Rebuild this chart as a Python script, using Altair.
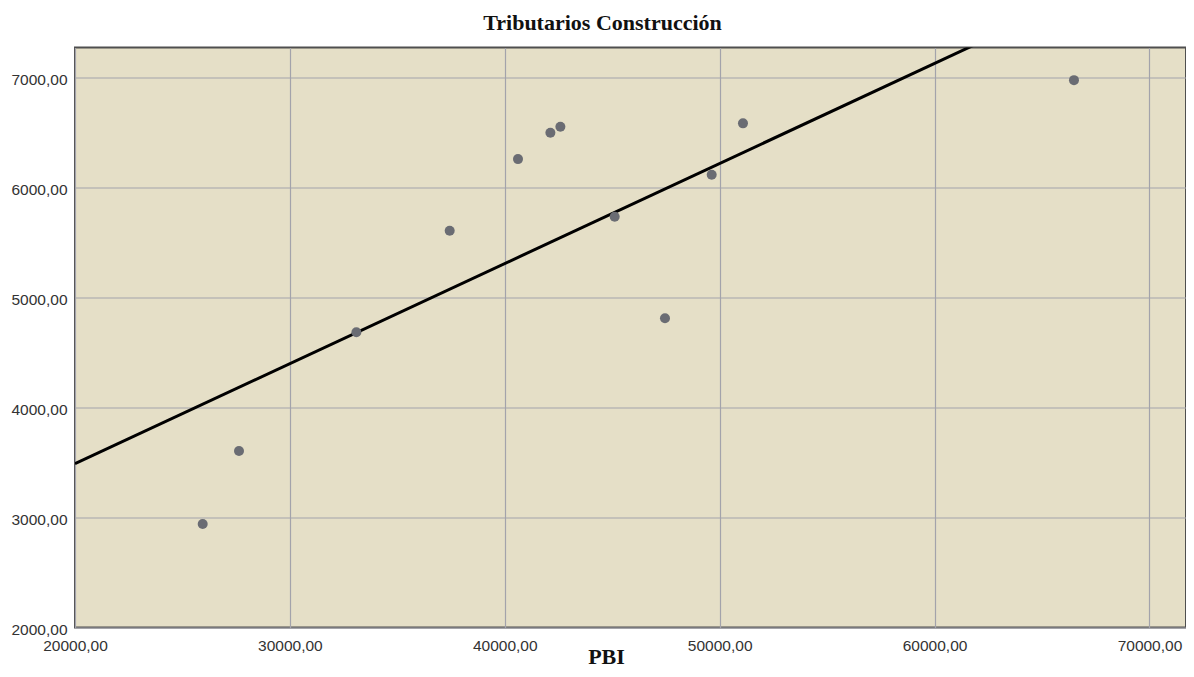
import altair as alt
import pandas as pd

# Data
pbi = [25942, 27631, 33094, 37436, 40614, 42122, 42587, 45114, 47455, 49628, 51084, 66487]
tributarios = [2942, 3605, 4685, 5608, 6260, 6499, 6554, 5735, 4812, 6117, 6585, 6978]

x_ticks = [20000, 30000, 40000, 50000, 60000, 70000]
y_ticks = [2000, 3000, 4000, 5000, 6000, 7000]

df = pd.DataFrame({"PBI": pbi, "Trib": tributarios})

label_expr = "replace(format(datum.value, '.2f'), '.', ',')"

x_enc = alt.X(
    "PBI:Q",
    scale=alt.Scale(domain=[20000, 71700], nice=False, zero=False),
    axis=alt.Axis(
        values=x_ticks,
        labelExpr=label_expr,
        labelFlush=False,
        labelOverlap=False,
        ticks=False,
        domain=False,
        labelPadding=11,
        labelFont="Liberation Sans",
        labelFontSize=15.5,
        labelColor="#333333",
        gridColor="#a3a3ab",
        gridWidth=1.2,
        title="PBI",
        titleFont="Liberation Serif",
        titleFontSize=22,
        titleFontWeight="bold",
        titleColor="#111111",
        titleX=531,
        titleY=36,
        titleBaseline="alphabetic",
    ),
)

y_enc = alt.Y(
    "Trib:Q",
    scale=alt.Scale(domain=[2000, 7275], nice=False, zero=False),
    axis=alt.Axis(
        values=y_ticks,
        labelExpr=label_expr,
        labelFlush=False,
        labelOverlap=False,
        ticks=False,
        domain=False,
        labelPadding=8,
        labelOffset=2,
        labelFont="Liberation Sans",
        labelFontSize=15.5,
        labelColor="#333333",
        gridColor="#a3a3ab",
        gridWidth=1.2,
        title=None,
    ),
)

points = alt.Chart(df).mark_circle(size=100, opacity=1, color="#6a6c73").encode(
    x=x_enc, y=y_enc
)

fit = (
    alt.Chart(df)
    .transform_regression("PBI", "Trib", extent=[20000, 71700])
    .mark_line(color="#000000", strokeWidth=3, clip=True)
    .encode(x=alt.X("PBI:Q"), y=alt.Y("Trib:Q"))
)

chart = (
    alt.layer(fit, points)
    .properties(
        width=1111,
        height=580,
        title=alt.TitleParams(
            "Tributarios Construcción",
            font="Liberation Serif",
            fontSize=22,
            fontWeight="bold",
            color="#111111",
            anchor="middle",
            frame="group",
            dx=-28,
            dy=20,
            offset=16,
            baseline="alphabetic",
        ),
        autosize=alt.AutoSizeParams(type="none"),
        padding={"left": 67, "top": 39.5, "right": 0, "bottom": 41},
    )
    .configure(background="#ffffff")
    .configure_view(fill="#e5dfc7", stroke="#4f4f4f", strokeWidth=2)
)

chart.save("out.html", embed_options={"renderer": "svg", "actions": False})
